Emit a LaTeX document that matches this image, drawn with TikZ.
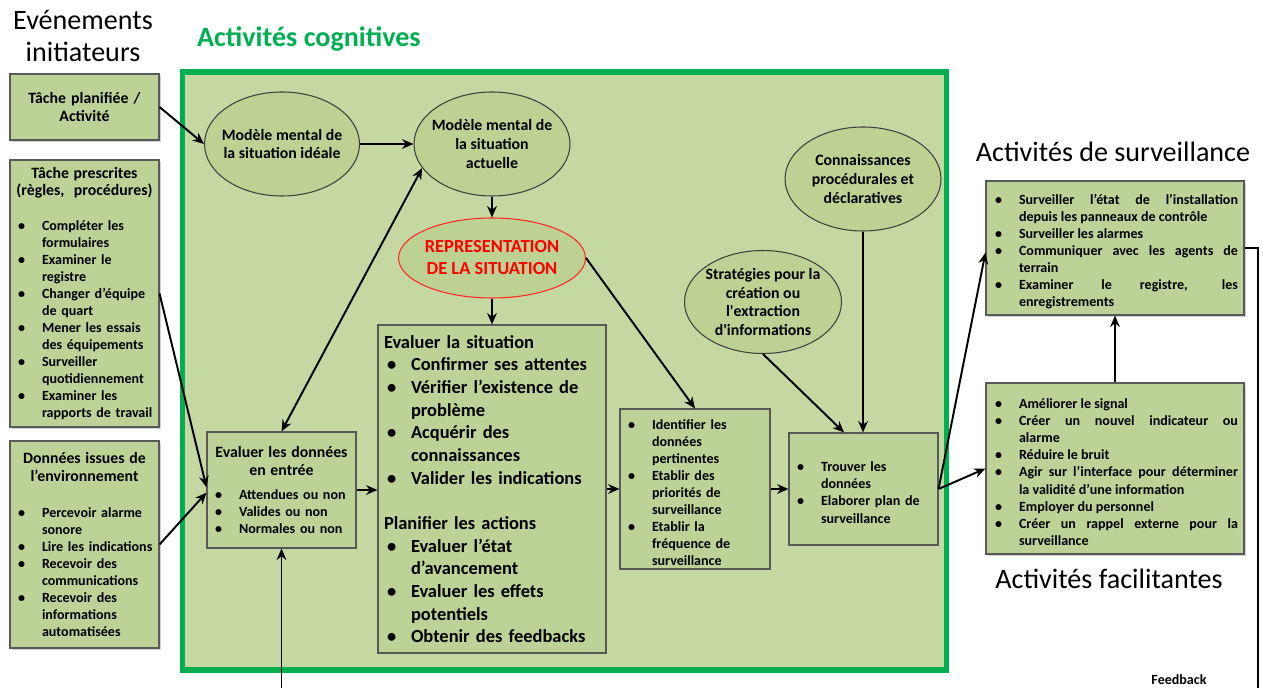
\documentclass[tikz,border=0pt]{standalone}
\usepackage{fontspec}
\setmainfont{Carlito}
\usepackage{enumitem}
\usetikzlibrary{shapes.geometric, shadows, arrows.meta}

\newdimen\pxu \pxu=0.02cm
\definecolor{framegreen}{HTML}{00B050}
\definecolor{panelgreen}{HTML}{C5D8A1}
\definecolor{boxgreen}{HTML}{BDD296}
\definecolor{ellgreen}{HTML}{BCD192}
\definecolor{edgegrey}{HTML}{595959}

\newlist{puces}{itemize}{1}
\setlist[puces]{label=\textbullet, nosep, leftmargin=27\pxu, labelwidth=24\pxu, labelsep=0pt, labelindent=3\pxu, align=left}

\tikzset{
  titre/.style = {font=\fontsize{16}{18.2}\selectfont, align=center},
  boite/.style = {draw=edgegrey, fill=boxgreen, line width=0.6pt, inner xsep=5\pxu, inner ysep=2\pxu},
  ombre/.style = {drop shadow={shadow xshift=2\pxu, shadow yshift=-2\pxu, opacity=0.3, fill=black!60}},
  bulle/.style = {ellipse, draw=black!75, fill=ellgreen, line width=0.6pt, inner sep=0pt},
  petit/.style = {font=\bfseries\fontsize{8}{9.7}\selectfont},
  moyen/.style = {font=\bfseries\fontsize{9}{10.6}\selectfont},
  fleche/.style = {->, line width=1.1pt}
}

\begin{document}
\begin{tikzpicture}[x=0.02cm, y=-0.02cm, >={Stealth[length=6.5pt, width=5.5pt]}]
\useasboundingbox (0,0) rectangle (1263,688);
\clip (0,0) rectangle (1263,688);
\node[titre] (evt) at (83,36) {Evénements\\initiateurs};
\node[titre, font=\bfseries\fontsize{16}{18.2}\selectfont, text=framegreen, anchor=west] (cogn) at (191,39) {Activités cognitives};
\node[titre] (titsurv) at (1113,152) {Activités de surveillance};
\node[titre] (titfacil) at (1109,579) {Activités facilitantes};
\draw[draw=framegreen, fill=panelgreen, line width=3pt] (182.5,72) rectangle (946.5,670);

\node[boite, ombre, moyen, minimum width=149\pxu, minimum height=66\pxu, text width=139\pxu, align=center] (plan) at (84.5,107) {Tâche planifiée /\\Activité};
\node[boite, ombre, petit, minimum width=149\pxu, minimum height=267\pxu, text width=139\pxu, align=left] (presc) at (84.5,293.5) {{\centering\fontsize{9}{9.8}\selectfont Tâche prescrites\\(règles,~ procédures)\par}\vspace{10pt}
\begin{puces}
\item Compléter les\newline formulaires
\item Examiner le\newline registre
\item Changer d’équipe\newline de quart
\item Mener les essais\newline des équipements
\item Surveiller\newline quotidiennement
\item Examiner les\newline rapports de travail
\end{puces}};
\node[boite, ombre, petit, minimum width=149\pxu, minimum height=207\pxu, text width=139\pxu, align=left] (envir) at (84.5,544.5) {{\centering\fontsize{9}{10.3}\selectfont Données issues de\\l’environnement\par}\vspace{11pt}
\begin{puces}
\item Percevoir alarme\newline sonore
\item Lire les indications
\item Recevoir des\newline communications
\item Recevoir des\newline informations\newline automatisées
\end{puces}};

\node[bulle, minimum width=155\pxu, minimum height=104\pxu, label={[moyen, align=center]center:Modèle mental de\\la situation idéale}] (ideal) at (282,144) {};
\node[bulle, minimum width=156\pxu, minimum height=104\pxu, label={[moyen, align=center]center:Modèle mental de\\la situation\\actuelle}] (actuelle) at (492,144) {};
\node[bulle, draw=red!85, minimum width=187\pxu, minimum height=80\pxu, label={[font=\bfseries\fontsize{10.5}{12.5}\selectfont, text=red, align=center]center:REPRESENTATION\\DE LA SITUATION}] (repr) at (492,258) {};
\node[bulle, minimum width=156\pxu, minimum height=104\pxu, label={[moyen, align=center]center:Connaissances\\procédurales et\\déclaratives}] (conn) at (863,179) {};
\node[bulle, minimum width=157\pxu, minimum height=103\pxu, label={[moyen, align=center]center:Stratégies pour la\\création ou\\l\textquotesingle extraction\\d\textquotesingle informations}] (strat) at (763,302) {};

\node[boite, petit, minimum width=149\pxu, minimum height=116\pxu, text width=139\pxu, align=left] (donnees) at (281.5,490) {{\centering\fontsize{9}{10.3}\selectfont Evaluer les données\\en entrée\par}\vspace{4pt}
\begin{puces}
\item Attendues ou non
\item Valides ou non
\item Normales ou non
\end{puces}};
\node[boite, font=\bfseries\fontsize{10.5}{12.9}\selectfont, minimum width=228\pxu, minimum height=328\pxu, text width=216\pxu, align=left] (evalsit) at (492,489) {Evaluer la situation
\begin{puces}
\item Confirmer ses attentes
\item Vérifier l’existence de\newline problème
\item Acquérir des\newline connaissances
\item Valider les indications
\end{puces}
\vspace{12.9pt}
Planifier les actions
\begin{puces}
\item Evaluer l’état\newline d’avancement
\item Evaluer les effets\newline potentiels
\item Obtenir des feedbacks
\end{puces}};
\node[boite, petit, minimum width=150\pxu, minimum height=160\pxu, text width=140\pxu, align=left] (ident) at (695,489) {\begin{puces}
\item Identifier les\newline données\newline pertinentes
\item Etablir des\newline priorités de\newline surveillance
\item Etablir la\newline fréquence de\newline surveillance
\end{puces}};
\node[boite, petit, minimum width=149\pxu, minimum height=112\pxu, text width=139\pxu, align=left] (trouver) at (863.5,489) {\begin{puces}
\item Trouver les\newline données
\item Elaborer plan de\newline surveillance
\end{puces}};

\node[boite, ombre, petit, minimum width=258\pxu, minimum height=134\pxu, text width=246\pxu, align=justify] (survT) at (1115,248) {\begin{puces}
\item Surveiller l’état de l’installation\linebreak depuis les panneaux de contrôle
\item Surveiller les alarmes
\item Communiquer avec les agents de\linebreak terrain
\item Examiner le registre, les\linebreak enregistrements
\end{puces}};
\node[boite, ombre, petit, minimum width=258\pxu, minimum height=171\pxu, text width=246\pxu, align=justify] (facil) at (1115,468.5) {\begin{puces}
\item Améliorer le signal
\item Créer un nouvel indicateur ou\linebreak alarme
\item Réduire le bruit
\item Agir sur l’interface pour déterminer\linebreak la validité d’une information
\item Employer du personnel
\item Créer un rappel externe pour la\linebreak surveillance
\end{puces}};

\draw[fleche] (plan.east) -- (ideal.west);
\draw[fleche] (ideal.east) -- (actuelle.west);
\draw[fleche] (actuelle.south) -- (repr.north);
\draw[fleche] (repr.south) -- (evalsit.north);
\draw[fleche, <->] (donnees.north) -- (actuelle.199);
\draw[fleche] (presc.east) -- (donnees.178);
\draw[fleche] (envir.east) -- (donnees.182);
\draw[fleche] (donnees.east) -- (donnees.east -| evalsit.west);
\draw[fleche] (evalsit.east) -- (evalsit.east -| ident.west);
\draw[fleche] (ident.east) -- (ident.east -| trouver.west);
\draw[fleche] (repr.east) -- (ident.north);
\draw[fleche] (strat.south) -- (trouver.109);
\draw[fleche] (conn.south) -- (conn.south |- trouver.north);
\draw[fleche] (trouver.east) -- (survT.182);
\draw[fleche] (trouver.east) -- (facil.west);
\draw[fleche] (facil.north) -- (survT.south);
\coordinate (fbbas) at (1258,700);
\draw[fleche] (survT.east) -| (fbbas) -| (donnees.south);
\node[font=\bfseries\fontsize{8}{9}\selectfont] (fbtexte) at (1179,680) {Feedback};
\end{tikzpicture}
\end{document}
